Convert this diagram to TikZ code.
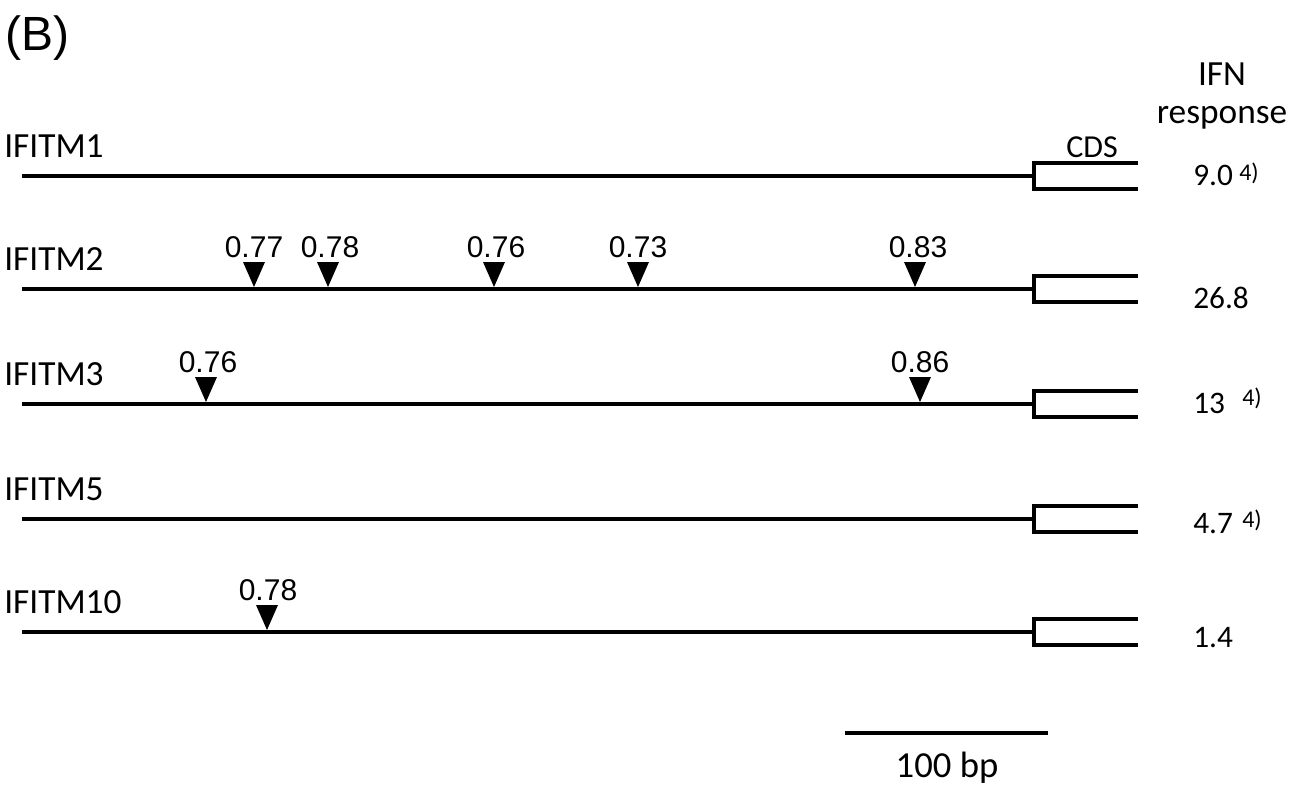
\documentclass[tikz,border=0pt]{standalone}
\usepackage{fontspec}
\setmainfont{Carlito}
\newfontfamily\arialf{Liberation Sans}
\begin{document}
\begin{tikzpicture}[x=0.75pt,y=-0.75pt,
  genelbl/.style={anchor=base west,inner sep=0pt,font=\fontsize{26.5}{30}\selectfont},
  vallbl/.style={anchor=base west,inner sep=0pt,font=\fontsize{23.5}{28}\selectfont},
  suplbl/.style={anchor=base west,inner sep=0pt,font=\fontsize{18}{21}\selectfont},
  numlbl/.style={anchor=base,inner sep=0pt,font=\arialf\fontsize{22.5}{26}\selectfont},
  headlbl/.style={anchor=base,inner sep=0pt,font=\fontsize{26.5}{30}\selectfont},
  geneline/.style={line width=3pt},
  cdsline/.style={line width=3pt,line join=miter},
  trimark/.style={fill=black}]
\useasboundingbox (0,0) rectangle (1305,785);

\node[anchor=base west,inner sep=0pt,font=\arialf\fontsize{36}{40}\selectfont] (panel) at (5,50) {(B)};
\node[headlbl] (ifn) at (1222,85) {IFN};
\node[headlbl] (resp) at (1222,123) {response};
\node[anchor=base,inner sep=0pt,font=\fontsize{24}{28}\selectfont] (cds) at (1092,157) {CDS};

% gene rows
\foreach \n/\y/\lab in {1/176/IFITM1,2/289/IFITM2,3/404/IFITM3,5/519/IFITM5,10/632/IFITM10}{
  \node[genelbl] (g\n) at (4,\y-19) {\lab};
  \coordinate (s\n) at (22,\y);
  \coordinate (e\n) at (1034,\y);
  \coordinate (ct\n) at (1034,\y-13);
  \coordinate (cb\n) at (1034,\y+13);
  \coordinate (ctr\n) at (1138,\y-13);
  \coordinate (cbr\n) at (1138,\y+13);
  \draw[geneline] (s\n) -- (e\n);
  \draw[cdsline] (ctr\n) -- (ct\n) -- (cb\n) -- (cbr\n);
}

% IFN values
\node[vallbl] (v1) at (1193,185) {9.0};
\node[suplbl] (f1) at (1239,180) {4)};
\node[vallbl] (v2) at (1193,308) {26.8};
\node[vallbl] (v3) at (1193,413) {13};
\node[suplbl] (f3) at (1242,405) {4)};
\node[vallbl] (v5) at (1193,533) {4.7};
\node[suplbl] (f5) at (1242,527) {4)};
\node[vallbl] (v10) at (1193,647) {1.4};

% triangles with scores
\foreach \k/\x/\tx/\y/\v in {a/254/254/289/0.77,b/328/330/289/0.78,c/494/496/289/0.76,d/638/638/289/0.73,e/915/918/289/0.83,
                             f/206/208/404/0.76,g/920/920/404/0.86,h/267/268/632/0.78}{
  \fill[trimark] (\x-11,\y-27) -- (\x+11,\y-27) -- (\x,\y-2) -- cycle;
  \node[numlbl] (t\k) at (\tx,\y-32) {\v};
}

% scale bar
\coordinate (sb1) at (845,733);
\coordinate (sb2) at (1048,733);
\draw[geneline] (sb1) -- (sb2);
\node[anchor=base,inner sep=0pt,font=\fontsize{27.5}{32}\selectfont] (sbl) at (947,777) {100 bp};
\end{tikzpicture}
\end{document}
